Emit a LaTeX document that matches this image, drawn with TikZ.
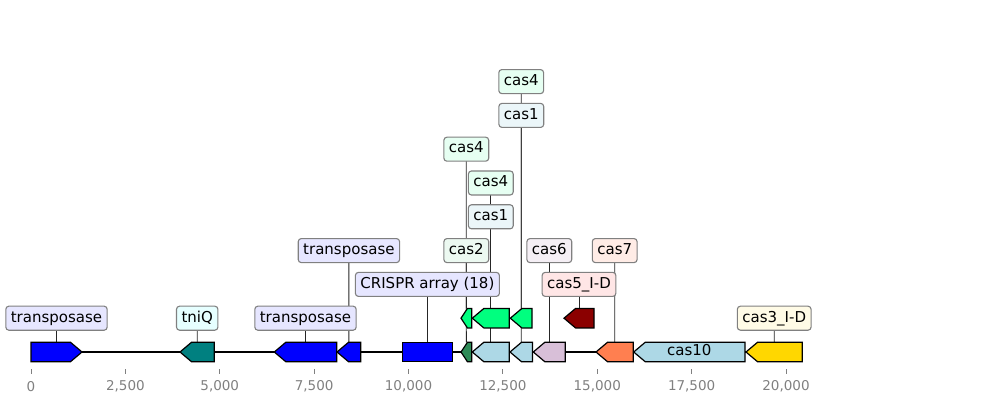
\documentclass[tikz,border=0pt]{standalone}
\usepackage{fontspec}
\setmainfont{DejaVu Sans}
\pgfdeclarelayer{bg}
\pgfsetlayers{bg,main}

% feature colours
\definecolor{fblue}{RGB}{0,0,255}
\definecolor{fteal}{RGB}{0,128,128}
\definecolor{fsea}{RGB}{46,139,87}
\definecolor{fspring}{RGB}{0,255,127}
\definecolor{flight}{RGB}{173,216,230}
\definecolor{fthistle}{RGB}{216,191,216}
\definecolor{fdred}{RGB}{139,0,0}
\definecolor{fcoral}{RGB}{255,127,80}
\definecolor{fgold}{RGB}{255,215,0}
% pale label boxes
\definecolor{bblue}{RGB}{230,230,255}
\definecolor{bteal}{RGB}{230,255,255}
\definecolor{bsea}{RGB}{236,249,241}
\definecolor{bspring}{RGB}{230,255,242}
\definecolor{blight}{RGB}{235,246,249}
\definecolor{bthistle}{RGB}{245,239,245}
\definecolor{bdred}{RGB}{255,230,230}
\definecolor{bcoral}{RGB}{255,236,230}
\definecolor{bgold}{RGB}{255,251,230}
\definecolor{edgegray}{RGB}{128,128,128}
\definecolor{axisgray}{RGB}{128,128,128}

% reverse-strand feature: name, start, end, centre y, colour
\newcommand\revfeat[5]{%
  \pgfmathsetmacro\fhead{min(11.5,0.6*(#3-#2))}%
  \filldraw[feat, fill=#5] (#2,#4) -- ({#2+\fhead},#4-9.7) -- (#3,#4-9.7)
    -- (#3,#4+9.7) -- ({#2+\fhead},#4+9.7) -- cycle;
  \coordinate (#1) at ({(#2+#3)/2},#4-9.7);}
% forward-strand feature
\newcommand\fwdfeat[5]{%
  \pgfmathsetmacro\fhead{min(11.5,0.6*(#3-#2))}%
  \filldraw[feat, fill=#5] (#2,#4-9.7) -- ({#3-\fhead},#4-9.7) -- (#3,#4)
    -- ({#3-\fhead},#4+9.7) -- (#2,#4+9.7) -- cycle;
  \coordinate (#1) at ({(#2+#3)/2},#4-9.7);}

\tikzset{
  feat/.style={draw=black, line width=1.2pt, line join=miter},
  lbl/.style={draw=edgegray, rounded corners=3pt, line width=1.1pt,
    inner xsep=5pt, inner ysep=0pt, minimum height=24pt,
    text height=11.2pt, text depth=3.6pt, font=\fontsize{15}{17}\selectfont},
  lead/.style={draw=black!85, line width=0.8pt},
  tickmark/.style={draw=axisgray, line width=0.8pt},
  ticklbl/.style={text=axisgray, font=\fontsize{13.5}{15}\selectfont, inner sep=0pt}
}

\begin{document}
\begin{tikzpicture}[x=1pt, y=-1pt]
\useasboundingbox (0,0) rectangle (985,403);

% backbone
\draw[line width=2pt] (31,352) -- (802.3,352);

% row 0 features
\fwdfeat{f1}{31}{82}{352}{fblue}
\revfeat{f2}{180}{214.3}{352}{fteal}
\revfeat{f3}{274.3}{336.7}{352}{fblue}
\revfeat{f4}{337}{360.7}{352}{fblue}
\filldraw[feat, fill=fblue] (402.3,342.3) rectangle (452.5,361.7);
\coordinate (f5) at (427.4,342.3);
\revfeat{f6}{461}{471.7}{352}{fsea}
\revfeat{f7}{472.3}{509.3}{352}{flight}
\revfeat{f8}{510}{532.5}{352}{flight}
\revfeat{f9}{533.3}{565.3}{352}{fthistle}
\revfeat{f10}{596}{633.3}{352}{fcoral}
\revfeat{f11}{633.7}{745}{352}{flight}
\revfeat{f12}{746}{802.3}{352}{fgold}

% row 1 features
\revfeat{g1}{461}{471.7}{318.2}{fspring}
\revfeat{g2}{472.3}{509.3}{318.2}{fspring}
\revfeat{g3}{510.3}{532}{318.2}{fspring}
\revfeat{g4}{564}{594}{318.2}{fdred}

% labels
\node[lbl, fill=bblue] (L1) at (56.5,318.2) {transposase};
\node[lbl, fill=bteal] (L2) at (197.2,318.2) {tniQ};
\node[lbl, fill=bblue] (L3) at (305.5,318.2) {transposase};
\node[lbl, fill=bblue] (L4) at (348.9,250.6) {transposase};
\node[lbl, fill=bblue] (L5) at (427.4,284.4) {CRISPR array (18)};
\node[lbl, fill=bsea] (L6) at (466.3,250.6) {cas2};
\node[lbl, fill=blight] (L7) at (490.8,216.8) {cas1};
\node[lbl, fill=blight] (L8) at (521.3,115.4) {cas1};
\node[lbl, fill=bthistle] (L9) at (549.3,250.6) {cas6};
\node[lbl, fill=bcoral] (L10) at (614.7,250.6) {cas7};
\node[font=\fontsize{15}{17}\selectfont, text height=11.2pt, text depth=3.6pt, inner sep=0pt]
  (L11) at (689.3,352) {cas10};
\node[lbl, fill=bgold] (L12) at (774.2,318.2) {cas3\_I-D};
\node[lbl, fill=bspring] (L13) at (466.3,149.2) {cas4};
\node[lbl, fill=bspring] (L14) at (490.8,183) {cas4};
\node[lbl, fill=bspring] (L15) at (521.2,81.6) {cas4};
\node[lbl, fill=bdred] (L16) at (579,284.4) {cas5\_I-D};

% leader lines, kept behind boxes and features
\begin{pgfonlayer}{bg}
\foreach \a/\b in {L1/f1, L2/f2, L3/f3, L4/f4, L5/f5, L6/f6, L7/f7, L8/f8,
                   L9/f9, L10/f10, L12/f12, L13/g1, L14/g2, L15/g3, L16/g4}
  \draw[lead] (\a.center) -- (\b);
\end{pgfonlayer}

% position axis (positions in kb)
\foreach \v/\t [count=\i from 0] in {0/0, 2.5/{2,500}, 5/{5,000}, 7.5/{7,500},
    10/{10,000}, 12.5/{12,500}, 15/{15,000}, 17.5/{17,500}, 20/{20,000}} {
  \coordinate (t\i) at ({31+37.75*\v},369.3);
  \draw[tickmark] (t\i) -- ++(0,4.7);
  \node[ticklbl] (n\i) at ({31+37.75*\v},386.7) {\t};
}
\end{tikzpicture}
\end{document}
